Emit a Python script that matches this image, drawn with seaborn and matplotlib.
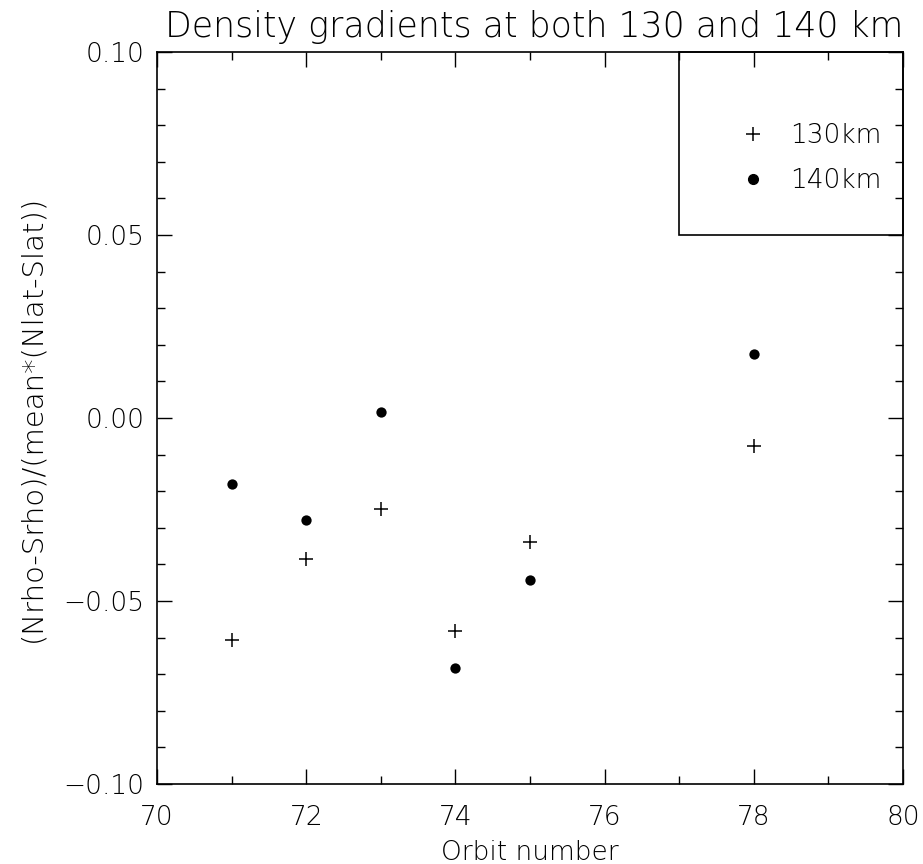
import numpy as np
import pandas as pd
import matplotlib
matplotlib.use("Agg")
import matplotlib.pyplot as plt
import seaborn as sns
from matplotlib.ticker import MultipleLocator
from matplotlib.patches import Rectangle
from matplotlib.lines import Line2D

orbits = [71, 72, 73, 74, 75, 78]
grad_130 = [-0.0607, -0.0386, -0.0249, -0.0581, -0.0338, -0.0077]
grad_140 = [-0.0180, -0.0280, 0.0016, -0.0684, -0.0443, 0.0175]
series_labels = ["130km", "140km"]
title = "Density gradients at both 130 and 140 km"
xlabel = "Orbit number"
ylabel = "(Nrho-Srho)/(mean*(Nlat-Slat))"

sns.set_theme(style="white")
plt.rcParams['font.family'] = ['DejaVu Sans']
plt.rcParams['font.weight'] = 'light'
plt.rcParams['text.color'] = 'black'
plt.rcParams['axes.labelcolor'] = 'black'
plt.rcParams['xtick.color'] = 'black'
plt.rcParams['ytick.color'] = 'black'

df = pd.DataFrame({
    "orbit": orbits * 2,
    "grad": grad_130 + grad_140,
    "alt": [series_labels[0]] * len(orbits) + [series_labels[1]] * len(orbits),
})

W, H = 923, 864
L, R, T, B = 157, 903, 52, 784
fig = plt.figure(figsize=(W/100, H/100), dpi=100)
ax = fig.add_axes([L/W, 1-B/H, (R-L)/W, (B-T)/H])

sns.scatterplot(data=df[df.alt == series_labels[0]], x="orbit", y="grad", marker="+",
                s=115, color="black", linewidth=1.1, ax=ax, legend=False)
sns.scatterplot(data=df[df.alt == series_labels[1]], x="orbit", y="grad", marker="o",
                s=55, color="black", edgecolor="black", linewidth=0, ax=ax, legend=False)

ax.set_xlim(70, 80)
ax.set_ylim(-0.10, 0.10)
ax.xaxis.set_major_locator(MultipleLocator(2))
ax.xaxis.set_minor_locator(MultipleLocator(1))
ax.yaxis.set_major_locator(MultipleLocator(0.05))
ax.yaxis.set_minor_locator(MultipleLocator(0.01))
ax.yaxis.set_major_formatter(matplotlib.ticker.FuncFormatter(
    lambda v, p: ("%.2f" % v).replace("-", "\u2212") if abs(v) > 1e-9 else "0.00"))
ax.xaxis.set_major_formatter(matplotlib.ticker.FuncFormatter(lambda v, p: "%d" % v))
ax.tick_params(which="both", direction="in", top=True, right=True, bottom=True, left=True,
               color="black", width=1.0, labelsize=19, labelcolor="black")
ax.tick_params(axis="y", pad=9)
ax.tick_params(axis="x", pad=15)
ax.tick_params(which="major", length=11)
ax.tick_params(which="minor", length=6)
for s in ax.spines.values():
    s.set_color("black")
    s.set_linewidth(1.2)

ax.set_xlabel(xlabel, fontsize=19, fontweight="light", color="black")
ax.xaxis.set_label_coords(0.5, -0.076)
ax.set_ylabel(ylabel, fontsize=21, labelpad=12, fontweight="light", color="black")
ax.set_title(title, fontsize=25, pad=11, fontweight="light", x=0.505, color="black")

# legend box
ax.add_patch(Rectangle((0.7, 0.75), 0.3, 0.25, transform=ax.transAxes, fill=False,
                       edgecolor="black", linewidth=1.2, zorder=3, clip_on=False))
handles = [Line2D([], [], marker="+", color="black", linestyle="none", markersize=10.5, markeredgewidth=1.1),
           Line2D([], [], marker="o", color="black", linestyle="none", markersize=7)]
leg = ax.legend(handles, series_labels, loc="upper left", bbox_to_anchor=(0.75, 0.935),
                frameon=False, fontsize=19, handletextpad=0.9, labelspacing=0.75, handlelength=1.0)
for t in leg.get_texts():
    t.set_color("black")

fig.savefig("out.png", dpi=100, facecolor="white")
